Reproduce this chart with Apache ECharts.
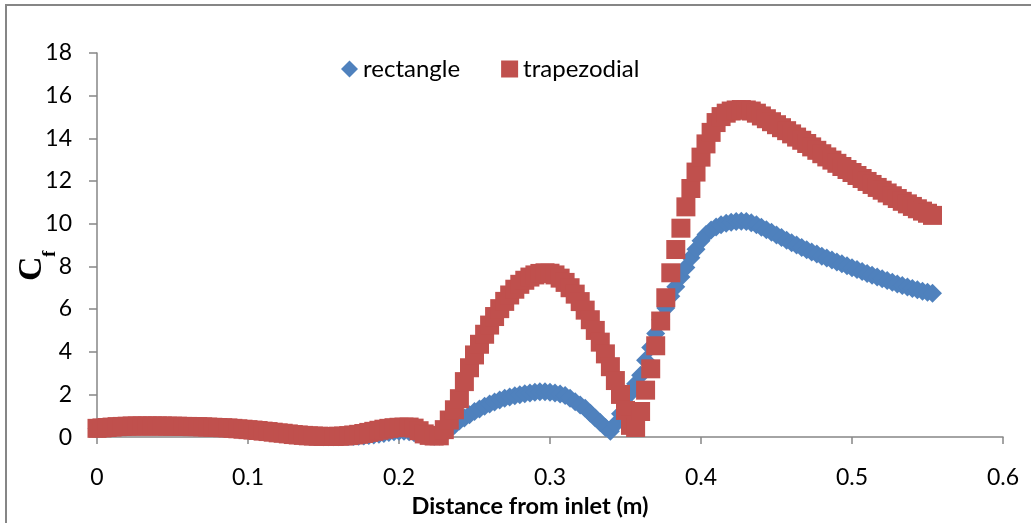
<!DOCTYPE html>
<html>
<head>
<meta charset="utf-8">
<script src="https://cdn.jsdelivr.net/npm/echarts@6/dist/echarts.min.js"></script>
<style>
  html, body { margin: 0; padding: 0; background: #fff; }
  #chart { width: 1031px; height: 523px; }
</style>
</head>
<body>
<div id="chart"></div>
<script>
// Distance from inlet (m)
const distance = [
  0,0.0033,0.0067,0.01,0.0133,0.0167,0.02,0.0233,0.0267,0.03,0.0333,0.0367,0.04,0.0433,0.0467,0.05,0.0533,0.0567,0.06,0.0633,0.0667,0.07,0.0733,0.0767,0.08,0.0833,0.0867,0.09,0.0933,0.0967,
  0.1,0.1033,0.1067,0.11,0.1133,0.1167,0.12,0.1233,0.1267,0.13,0.1333,0.1367,0.14,0.1433,0.1467,0.15,0.1533,0.1567,0.16,0.1633,0.1667,0.17,0.1733,0.1767,0.18,0.1833,0.1867,0.19,0.1933,0.1967,
  0.2,0.2033,0.2067,0.21,0.2133,0.2167,0.22,0.2233,0.2267,0.23,0.2333,0.2367,0.24,0.2433,0.2467,0.25,0.2533,0.2567,0.26,0.2633,0.2667,0.27,0.2733,0.2767,0.28,0.2833,0.2867,0.29,0.2933,0.2967,
  0.3,0.3033,0.3067,0.31,0.3133,0.3167,0.32,0.3233,0.3267,0.33,0.3333,0.3367,0.34,0.3433,0.3467,0.35,0.3533,0.3567,0.36,0.3633,0.3667,0.37,0.3733,0.3767,0.38,0.3833,0.3867,0.39,0.3933,0.3967,
  0.4,0.4033,0.4067,0.41,0.4133,0.4167,0.42,0.4233,0.4267,0.43,0.4333,0.4367,0.44,0.4433,0.4467,0.45,0.4533,0.4567,0.46,0.4633,0.4667,0.47,0.4733,0.4767,0.48,0.4833,0.4867,0.49,0.4933,0.4967,
  0.5,0.5033,0.5067,0.51,0.5133,0.5167,0.52,0.5233,0.5267,0.53,0.5333,0.5367,0.54,0.5433,0.5467,0.55,0.5533
];

// Cf for the rectangular channel
const rectangle = [
  0.4,0.42,0.44,0.46,0.48,0.49,0.5,0.51,0.51,0.51, 0.51,0.51,0.51,0.51,0.5,0.5,0.5,0.49,0.49,0.48, 0.48,0.47,0.46,0.45,0.44,0.43,0.42,0.4,0.38,0.36,
  0.34,0.32,0.3,0.27,0.25,0.22,0.19,0.17,0.14,0.11, 0.09,0.07,0.05,0.04,0.03,0.02,0.02,0.02,0.02,0.03, 0.03,0.03,0.04,0.05,0.07,0.1,0.13,0.17,0.21,0.25,
  0.28,0.28,0.25,0.2,0.15,0.1,0.06,0.04,0.05,0.15, 0.35,0.55,0.75,0.9,1.05,1.2,1.32,1.45,1.55,1.65, 1.74,1.82,1.88,1.94,1.99,2.03,2.07,2.1,2.12,2.12,
  2.1,2.07,2.02,1.95,1.82,1.66,1.5,1.35,1.12,0.9, 0.68,0.45,0.28,0.6,1.1,1.6,2.05,2.5,2.9,3.6, 4.2,4.85,5.5,6.05,6.6,7.05,7.5,7.95,8.4,8.8,
  9.2,9.5,9.7,9.85,9.95,10.02,10.07,10.1,10.12,10.1, 10.04,9.95,9.84,9.72,9.6,9.47,9.35,9.23,9.11,9.0, 8.89,8.78,8.68,8.58,8.48,8.39,8.3,8.21,8.12,8.03,
  7.94,7.85,7.76,7.67,7.58,7.5,7.42,7.34,7.26,7.18, 7.1,7.03,6.96,6.9,6.84,6.79,6.74
];

// Cf for the trapezoidal channel
const trapezodial = [
  0.41,0.43,0.45,0.47,0.49,0.5,0.51,0.52,0.52,0.52, 0.52,0.52,0.52,0.52,0.51,0.51,0.51,0.5,0.5,0.49, 0.49,0.48,0.47,0.46,0.45,0.44,0.43,0.41,0.39,0.37,
  0.35,0.33,0.31,0.28,0.26,0.23,0.2,0.18,0.15,0.12, 0.1,0.08,0.06,0.05,0.04,0.03,0.03,0.03,0.04,0.05, 0.07,0.1,0.13,0.17,0.22,0.27,0.32,0.37,0.41,0.44,
  0.46,0.47,0.47,0.42,0.3,0.15,0.08,0.05,0.06,0.35, 0.8,1.28,1.8,2.6,3.25,3.85,4.35,4.82,5.25,5.65, 6.02,6.36,6.66,6.93,7.16,7.35,7.5,7.6,7.67,7.7,
  7.68,7.6,7.45,7.25,7.0,6.7,6.35,5.95,5.5,5.0, 4.45,3.9,3.3,2.65,2.0,1.25,0.55,0.45,1.2,2.2, 3.2,4.28,5.44,6.53,7.7,8.79,9.79,10.79,11.65,12.42,
  13.12,13.74,14.28,14.74,15.02,15.18,15.28,15.33,15.35,15.33, 15.28,15.18,15.05,14.92,14.78,14.64,14.5,14.36,14.21,14.06, 13.91,13.76,13.6,13.44,13.28,13.13,12.98,12.83,12.68,12.54,
  12.4,12.26,12.12,11.98,11.84,11.7,11.57,11.44,11.31,11.18, 11.05,10.93,10.81,10.7,10.59,10.49,10.39
];

const xTickLabels = ['0', '0.1', '0.2', '0.3', '0.4', '0.5', '0.6'];
const yTickLabels = ['0', '2', '4', '6', '8', '10', '12', '14', '16', '18'];

const axisGrey = '#868686';
const labelFont = 'Lato';

const chart = echarts.init(document.getElementById('chart'), null, { renderer: 'canvas' });

chart.setOption({
  animation: false,
  backgroundColor: '#ffffff',
  grid: { left: 97, right: 28, top: 53, bottom: 83 },
  legend: {
    left: 336,
    top: 52,
    itemWidth: 17,
    itemHeight: 17,
    itemGap: 41,
    textStyle: { fontFamily: labelFont, fontSize: 24, color: '#000', padding: [0, 0, 0, 0] },
    data: [
      { name: 'rectangle', icon: 'diamond' },
      { name: 'trapezodial', icon: 'rect' }
    ]
  },
  xAxis: {
    type: 'value',
    min: 0,
    max: 0.6,
    interval: 0.1,
    splitLine: { show: false },
    axisLine: { lineStyle: { color: axisGrey, width: 1.5 } },
    axisTick: { length: 7, lineStyle: { color: axisGrey, width: 1.5 } },
    axisLabel: {
      margin: 29,
      fontFamily: labelFont,
      fontSize: 23,
      color: '#000',
      formatter: (v, i) => xTickLabels[i]
    },
    name: 'Distance from inlet (m)',
    nameLocation: 'middle',
    nameGap: 51,
    nameTextStyle: {
      fontFamily: labelFont,
      fontWeight: 'bold',
      fontSize: 23.5,
      color: '#000',
      padding: [0, 40, 0, 0]
    }
  },
  yAxis: {
    type: 'value',
    min: 0,
    max: 18,
    interval: 2,
    splitLine: { show: false },
    axisLine: { show: true, lineStyle: { color: axisGrey, width: 1.5 } },
    axisTick: { show: true, length: 8, lineStyle: { color: axisGrey, width: 1.5 } },
    axisLabel: {
      margin: 25,
      fontFamily: labelFont,
      fontSize: 23,
      color: '#000',
      formatter: (v, i) => yTickLabels[i]
    }
  },
  graphic: [
    {
      type: 'rect',
      z: -1,
      silent: true,
      shape: { x: 6, y: 5, width: 1100, height: 700 },
      style: { fill: 'none', stroke: axisGrey, lineWidth: 2 }
    },
    {
      // y-axis title: C with subscript f, reading bottom to top
      type: 'group',
      x: 21,
      y: 281,
      rotation: Math.PI / 2,
      children: [
        {
          type: 'text',
          style: {
            text: 'C', x: 0, y: 11.5, align: 'left', verticalAlign: 'middle',
            font: 'bold 34px "Liberation Serif"', fill: '#000'
          }
        },
        {
          type: 'text',
          style: {
            text: 'f', x: 24, y: 29, align: 'left', verticalAlign: 'middle',
            font: 'bold 19px "Liberation Serif"', fill: '#000'
          }
        }
      ]
    }
  ],
  series: [
    {
      name: 'rectangle',
      type: 'scatter',
      symbol: 'diamond',
      symbolSize: 19,
      clip: false,
      itemStyle: { color: '#4F81BD', opacity: 1 },
      data: distance.map((x, i) => [x, rectangle[i]])
    },
    {
      name: 'trapezodial',
      type: 'scatter',
      symbol: 'rect',
      symbolSize: 19,
      clip: false,
      itemStyle: { color: '#C0504D', opacity: 1 },
      data: distance.map((x, i) => [x, trapezodial[i]])
    }
  ]
});
</script>
</body>
</html>
